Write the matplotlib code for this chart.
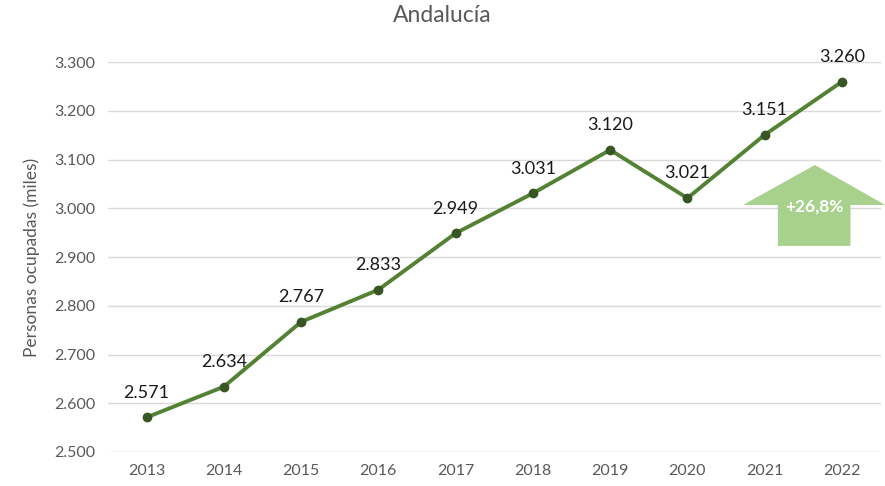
'''
Personas ocupadas en Andalucía, 2013-2022
'''
import matplotlib.pyplot as plt
from matplotlib.patches import Polygon

years = ['2013', '2014', '2015', '2016', '2017', '2018', '2019', '2020', '2021', '2022']
ocupados = [2571, 2634, 2767, 2833, 2949, 3031, 3120, 3021, 3151, 3260]
yticks = [2500, 2600, 2700, 2800, 2900, 3000, 3100, 3200, 3300]
growth_label = '+26,8%'

plt.rcParams['font.family'] = ['Lato', 'DejaVu Sans']


def fmt(v):
    return f'{v:,}'.replace(',', '.')


fig = plt.figure(figsize=(8.85, 4.86), dpi=100)
ax = fig.add_axes([0.122, 0.07, 0.873, 0.802])

x = list(range(len(years)))
ax.plot(x, ocupados, color='#548235', lw=2.8, marker='o', ms=6,
        mfc='#375623', mec='#375623', zorder=3)

for xi, v in zip(x, ocupados):
    ax.annotate(fmt(v), (xi, v), xytext=(0, 12), textcoords='offset points',
                ha='center', va='bottom', fontsize=13, color='#1a1a1a')

# growth arrow
arrow = Polygon([(7.72, 3007), (8.65, 3089), (9.56, 3007), (9.11, 3007),
                 (9.11, 2923), (8.17, 2923), (8.17, 3007)],
                closed=True, fc='#a9d18e', ec='none', clip_on=False, zorder=2)
ax.add_patch(arrow)
ax.text(8.65, 3004, growth_label, ha='center', va='center', fontsize=12.5,
        fontweight='bold', color='white', zorder=4)

ax.set_xlim(-0.5, len(years) - 0.5)
ax.set_ylim(2500, 3300)
ax.set_xticks(x)
ax.set_xticklabels(years)
ax.set_yticks(yticks)
ax.set_yticklabels([fmt(t) for t in yticks])
ax.tick_params(length=0, labelsize=11.5, colors='#595959', pad=9)
ax.grid(axis='y', color='#d9d9d9', lw=1)
ax.set_axisbelow(True)
for s in ax.spines.values():
    s.set_visible(False)

ax.set_ylabel('Personas ocupadas (miles)', fontsize=12.5, color='#595959', labelpad=10)
fig.suptitle('Andalucía', fontsize=16.5, color='#595959', y=0.99)

fig.savefig('out.png', dpi=100)
